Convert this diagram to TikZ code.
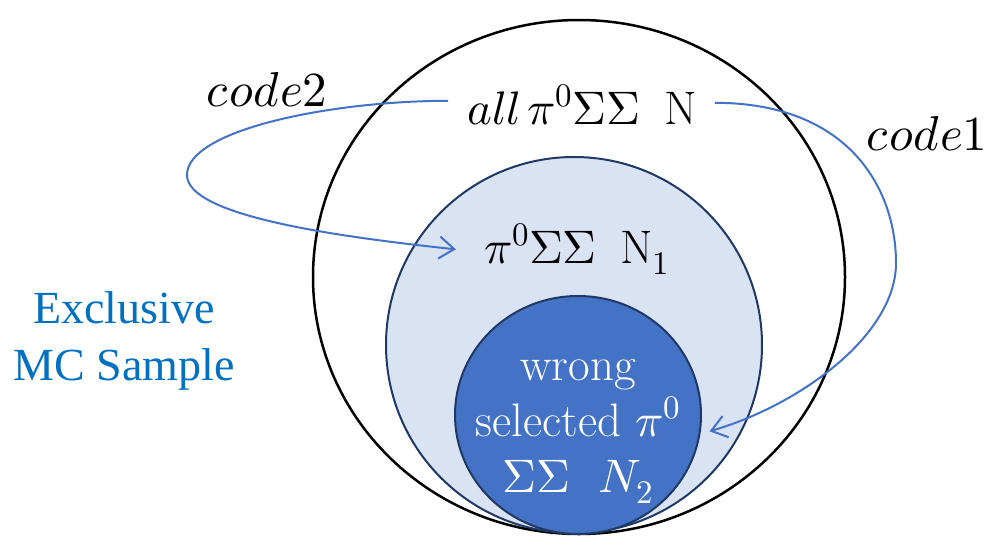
\documentclass[tikz,border=0pt]{standalone}
\usepackage{fontspec}
\usepackage{unicode-math}
\setmathfont{Latin Modern Math}
\newfontfamily\timesf{Liberation Serif}
\usetikzlibrary{arrows.meta}
\definecolor{ablue}{HTML}{4472C4}
\definecolor{lightb}{HTML}{DAE3F3}
\definecolor{navyb}{HTML}{1F3864}
\definecolor{mcblue}{HTML}{0070C0}
\begin{document}
\begin{tikzpicture}[x=1pt,y=-1pt,
  big/.style={font=\fontsize{47}{56}\selectfont, inner sep=0pt},
  arr/.style={ablue, line width=2pt, -{Straight Barb[length=15pt,width=22pt,line width=2pt]}}]
\useasboundingbox (0,0) rectangle (989,536);
% sets
\draw[line width=2.5pt, fill=white] (579,277) ellipse [x radius=266, y radius=257];
\draw[navyb, line width=2pt, fill=lightb] (574,345) circle [radius=188];
\draw[navyb, line width=2pt, fill=ablue] (578,415) ellipse [x radius=123, y radius=119];
% texts
\node[big, anchor=base] (all) at (582,124) {$all\,\pi^0\Sigma\Sigma$\enspace N};
\node[big, anchor=base] (n1) at (577,263) {$\pi^0\Sigma\Sigma$\enspace N$_1$};
\node[big, white, align=center, anchor=base] (wrong) at (578,492) {wrong\\selected $\pi^0$\\$\Sigma\Sigma\ \ N_2$};
\node[big, font=\fontsize{49}{56}\selectfont, anchor=base] (code2) at (267,106) {$code2$};
\node[big, font=\fontsize{49}{56}\selectfont, anchor=base] (code1) at (927,150) {$code1$};
\node[font=\timesf\fontsize{46}{57}\selectfont, text=mcblue, align=center, anchor=base, inner sep=0pt] (excl) at (124,380) {Exclusive\\MC Sample};
% arrows
\draw[arr] ([xshift=-19pt,yshift=4pt]all.west) .. controls (330,101) and (187,130) .. (187,175)
  .. controls (187,215) and (330,236) .. ([xshift=-28pt]n1.west);
\draw[arr] ([xshift=18pt,yshift=2pt]all.east) .. controls (850,103) and (896,190) .. (896,263)
  .. controls (896,335) and (800,405) .. ([xshift=29pt]wrong.east);
\end{tikzpicture}
\end{document}
